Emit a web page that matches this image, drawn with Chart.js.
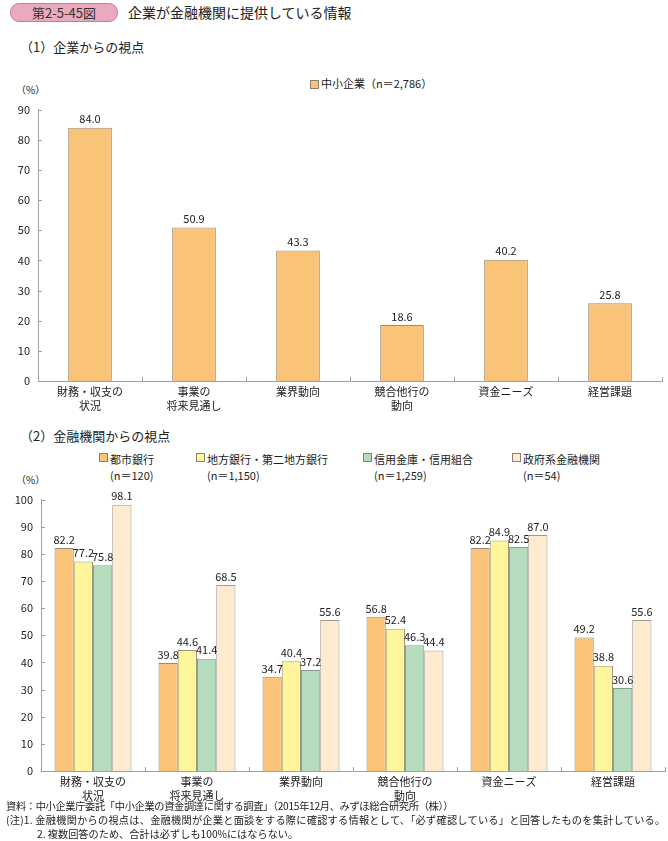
<!DOCTYPE html>
<html>
<head>
<meta charset="utf-8">
<script src="https://cdn.jsdelivr.net/npm/chart.js@4"></script>
<style>
body{margin:0;width:668px;height:841px;position:relative;background:#fff;font-family:"Noto Sans CJK JP","Noto Sans",sans-serif;color:#222;overflow:hidden}
.t{position:absolute;white-space:nowrap;line-height:1}
.pill{position:absolute;left:10px;top:3px;width:106px;height:17px;border-radius:9px;background:#e9a9be;border:1px solid #c97a95;font-size:13px;text-align:center;line-height:17px;color:#333}
.sq{position:absolute;width:7px;height:7px;border:1px solid #8a8070}
.box{position:absolute;left:0;width:668px;height:325px}
</style>
</head>
<body>
<div class="pill">第2-5-45図</div>
<div class="t" style="left:128px;top:5px;font-size:14px">企業が金融機関に提供している情報</div>
<div class="t" style="left:20px;top:40px;font-size:13px">（1）企業からの視点</div>

<div class="sq" style="left:310px;top:80px;background:#f9c378"></div>
<div class="t" style="left:321px;top:78px;font-size:11px">中小企業（n＝2,786）</div>
<div class="t" style="left:16px;top:85px;font-size:10px">（%）</div>

<div class="t" style="left:20px;top:429px;font-size:13px">（2）金融機関からの視点</div>
<div class="sq" style="left:99px;top:453px;background:#f9c378"></div>
<div class="t" style="left:110px;top:451px;font-size:11px;line-height:16px">都市銀行<br>(n＝120)</div>
<div class="sq" style="left:196px;top:453px;background:#fff59d"></div>
<div class="t" style="left:207px;top:451px;font-size:11px;line-height:16px">地方銀行・第二地方銀行<br>(n＝1,150)</div>
<div class="sq" style="left:363px;top:453px;background:#b5dcbc"></div>
<div class="t" style="left:374px;top:451px;font-size:11px;line-height:16px">信用金庫・信用組合<br>(n＝1,259)</div>
<div class="sq" style="left:512px;top:453px;background:#fdeacf"></div>
<div class="t" style="left:523px;top:451px;font-size:11px;line-height:16px">政府系金融機関<br>(n＝54)</div>
<div class="t" style="left:16px;top:475px;font-size:10px">（%）</div>

<div class="box" style="top:95px"><canvas id="c1" width="668" height="325"></canvas></div>
<div class="box" style="top:485px"><canvas id="c2" width="668" height="325"></canvas></div>

<div class="t" style="left:6px;top:801px;font-size:10.2px;letter-spacing:-0.3px">資料：中小企業庁委託「中小企業の資金調達に関する調査」（2015年12月、みずほ総合研究所（株））</div>
<div class="t" style="left:6px;top:815px;font-size:10.2px;letter-spacing:0.25px">(注)1. 金融機関からの視点は、金融機関が企業と面談をする際に確認する情報として、「必ず確認している」と回答したものを集計している。</div>
<div class="t" style="left:37px;top:829px;font-size:10.2px">2. 複数回答のため、合計は必ずしも100%にはならない。</div>

<script>
const categories=[["財務・収支の","状況"],["事業の","将来見通し"],"業界動向",["競合他行の","動向"],"資金ニーズ","経営課題"]
const smeValues=[84.0,50.9,43.3,18.6,40.2,25.8]
const cityBank=[82.2,39.8,34.7,56.8,82.2,49.2]
const regionalBank=[77.2,44.6,40.4,52.4,84.9,38.8]
const shinkin=[75.8,41.4,37.2,46.3,82.5,30.6]
const govBank=[98.1,68.5,55.6,44.4,87.0,55.6]

const font='"Noto Sans CJK JP","Noto Sans",sans-serif'
const axisColor='#a0a0a0'

// value labels above bars + small inside ticks
const barLabels={
id:"barLabels",
afterDatasetsDraw(chart){
let ctx=chart.ctx
ctx.save()
ctx.font="11px "+font
ctx.fillStyle="#222"
ctx.textAlign="center"
ctx.textBaseline="bottom"
chart.data.datasets.forEach((ds,i)=>{
chart.getDatasetMeta(i).data.forEach((el,j)=>{
ctx.fillText(ds.data[j].toFixed(1),el.x,el.y-3)
})
})
ctx.restore()
},
afterDraw(chart){
let ctx=chart.ctx,a=chart.chartArea,y=chart.scales.y
ctx.save()
ctx.strokeStyle=axisColor
ctx.lineWidth=1
ctx.beginPath()
y.ticks.forEach(t=>{
let py=Math.round(y.getPixelForValue(t.value))+0.5
ctx.moveTo(a.left,py);ctx.lineTo(a.left+4,py)
})
let w=(a.right-a.left)/categories.length
for(let i=1;i<=categories.length;i++){
let px=Math.round(a.left+i*w)+0.5
ctx.moveTo(px,a.bottom);ctx.lineTo(px,a.bottom-4)
}
ctx.stroke()
ctx.restore()
}
}

function makeChart(id,datasets,max,leftW,padRight,catPct){
return new Chart(document.getElementById(id),{
type:"bar",
data:{labels:categories,datasets:datasets},
options:{
responsive:false,
animation:false,
layout:{padding:{top:14,right:padRight,left:0,bottom:0}},
plugins:{legend:{display:false},tooltip:{enabled:false}},
datasets:{bar:{categoryPercentage:catPct,barPercentage:1,borderWidth:1}},
scales:{
x:{
grid:{display:false,drawTicks:false},
border:{color:axisColor},
ticks:{color:"#222",font:{family:font,size:11,lineHeight:1.35},padding:3,maxRotation:0,autoSkip:false},
afterFit(s){s.height=39}
},
y:{
min:0,max:max,
grid:{display:false,drawTicks:false},
border:{color:axisColor},
ticks:{stepSize:10,color:"#222",font:{family:font,size:11},padding:8},
afterFit(s){s.width=leftW}
}
}
},
plugins:[barLabels]
})
}

makeChart("c1",[
{label:"中小企業（n＝2,786）",data:smeValues,backgroundColor:"#f9c378",borderColor:"#9a8a78"}
],90,38,6,0.42)

makeChart("c2",[
{label:"都市銀行",data:cityBank,backgroundColor:"#f9c378",borderColor:"#9a8a78"},
{label:"地方銀行・第二地方銀行",data:regionalBank,backgroundColor:"#fff59d",borderColor:"#a09a78"},
{label:"信用金庫・信用組合",data:shinkin,backgroundColor:"#b5dcbc",borderColor:"#8a9a8c"},
{label:"政府系金融機関",data:govBank,backgroundColor:"#fdeacf",borderColor:"#a09a8c"}
],100,41,3,0.74)
</script>
</body>
</html>
